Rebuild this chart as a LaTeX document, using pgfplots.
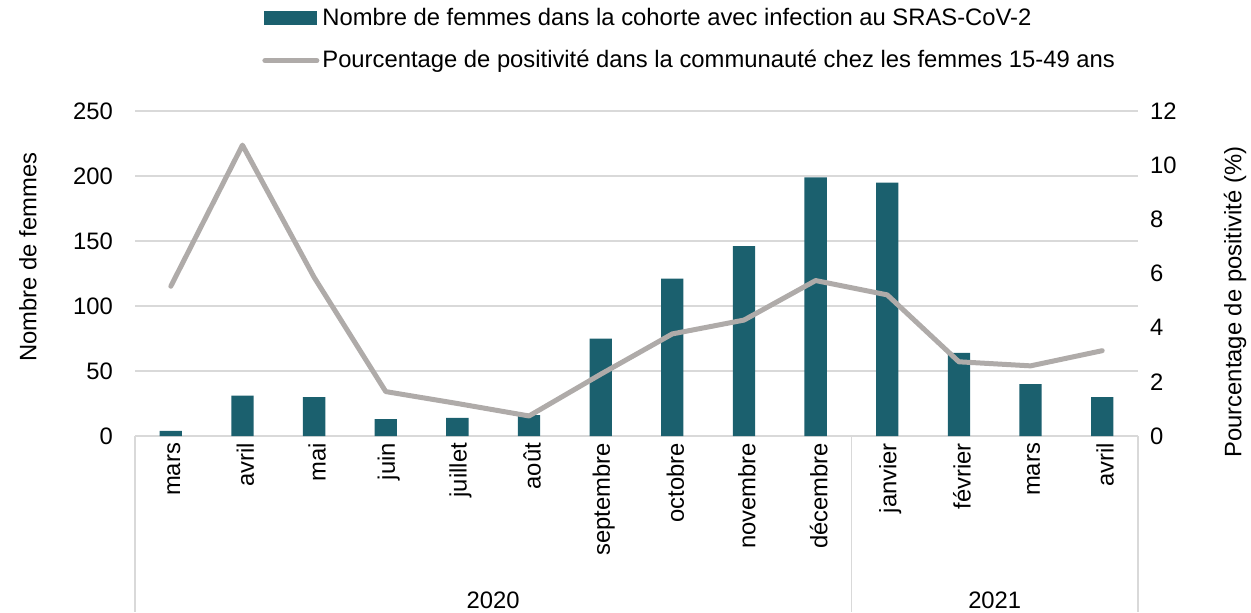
\documentclass[border=0pt]{standalone}
\usepackage{pgfplots}
\pgfplotsset{compat=1.18}
\usepackage{fontspec}
\setmainfont{Liberation Sans}
\definecolor{barc}{RGB}{27,96,110}
\definecolor{linec}{RGB}{175,171,169}
\definecolor{gridc}{RGB}{217,217,217}
\newcommand{\ff}{\fontsize{11.9}{14}\selectfont}
\begin{document}
\begin{tikzpicture}
\useasboundingbox (0pt,0pt) rectangle (625.5pt,306pt);
\pgfplotsset{common/.style={
  at={(67.5pt,88pt)}, anchor=south west,
  scale only axis, width=501.5pt, height=162.5pt,
  xmin=-0.5, xmax=13.5,
  major tick length=0pt,
  tick label style={font=\ff},
  label style={font=\ff},
  /pgf/number format/assume math mode=true,
}}
\begin{axis}[common,
  ymin=0, ymax=250, ytick={0,50,...,250},
  xtick={0,...,13},
  xticklabels={mars,avril,mai,juin,juillet,août,septembre,octobre,novembre,décembre,janvier,février,mars,avril},
  x tick label style={rotate=90, anchor=east, yshift=-1.5pt},
  yticklabel style={xshift=-7.5pt},
  axis y line*=left, axis x line*=bottom,
  y axis line style={draw=none},
  x axis line style={gridc, line width=0.75pt},
  ymajorgrids, grid style={gridc, line width=0.75pt},
  ylabel={Nombre de femmes},
  ylabel style={at={(axis description cs:-0.1067,0.55)}, anchor=center},
  clip=false,
]
\addplot[ybar, bar width=11.15pt, fill=barc, draw=none] coordinates {
(0,4) (1,31) (2,30) (3,13) (4,14) (5,16) (6,75) (7,121) (8,146) (9,199) (10,195) (11,64) (12,40) (13,30)};
\draw[gridc, line width=0.75pt] (axis cs:-0.5,0) -- ++(0pt,-88pt);
\draw[gridc, line width=0.75pt] (axis cs:9.5,0) -- ++(0pt,-88pt);
\draw[gridc, line width=0.75pt] (axis cs:13.5,0) -- ++(0pt,-88pt);
\node[font=\ff] at (axis cs:4.5,0) [yshift=-82pt] {2020};
\node[font=\ff] at (axis cs:11.5,0) [yshift=-82pt] {2021};
\end{axis}
\begin{axis}[common,
  ymin=0, ymax=12, ytick={0,2,...,12},
  axis y line*=right, axis x line=none,
  y axis line style={draw=none},
  yticklabel style={xshift=2.5pt},
  ylabel={Pourcentage de positivité (\%)},
  ylabel style={at={(axis description cs:1.0967,0.412)}, anchor=center, rotate=0},
  legend style={at={(axis description cs:0.1266,1.33)}, anchor=north west, draw=none, fill=none, font=\ff, row sep=7pt, inner sep=0pt, nodes={inner xsep=1.5pt}},
  legend cell align=left,
]
\addlegendimage{legend image code/.code={\fill[barc] (0pt,-3.2pt) rectangle (26pt,3.2pt);}}
\addlegendentry{Nombre de femmes dans la cohorte avec infection au SRAS-CoV-2}
\addplot[linec, line width=2.5pt, line join=round, line cap=round,
  legend image code/.code={\draw[linec, line width=2.5pt, line cap=round] (0pt,0pt) -- (26pt,0pt);}] coordinates {
(0,5.53) (1,10.74) (2,5.86) (3,1.64) (4,1.2) (5,0.74) (6,2.28) (7,3.77) (8,4.28) (9,5.74) (10,5.21) (11,2.74) (12,2.59) (13,3.15)};
\addlegendentry{Pourcentage de positivité dans la communauté chez les femmes 15-49 ans}
\end{axis}
\end{tikzpicture}
\end{document}
